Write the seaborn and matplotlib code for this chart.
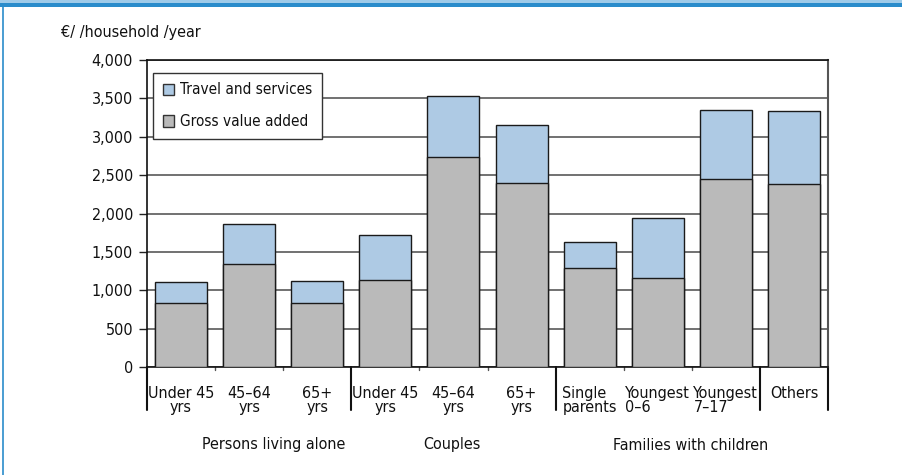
import numpy as np
import pandas as pd
import matplotlib
matplotlib.use("Agg")
import matplotlib.pyplot as plt
import matplotlib.transforms as mtransforms
from matplotlib import font_manager as fm
from matplotlib.patches import Rectangle, Patch
from matplotlib.lines import Line2D
import seaborn as sns

# ---- data ----
category_keys = ["alone_u45", "alone_45_64", "alone_65", "couple_u45", "couple_45_64",
                 "couple_65", "single_parents", "young_0_6", "young_7_17", "others"]
tick_labels = ["Under 45\nyrs", "45\u201364\nyrs", "65+\nyrs", "Under 45\nyrs", "45\u201364\nyrs",
               "65+\nyrs", "Single\nparents", "Youngest\n0\u20136", "Youngest\n7\u201317", "Others"]
gross_value_added = [840, 1340, 840, 1135, 2740, 2403, 1295, 1165, 2451, 2386]
travel_and_services = [268, 521, 281, 588, 789, 744, 332, 779, 904, 943]
group_names = ["Persons living alone", "Couples", "Families with children"]
series_names = ["Travel and services", "Gross value added"]
y_ticks = [0, 500, 1000, 1500, 2000, 2500, 3000, 3500, 4000]

totals = [g + t for g, t in zip(gross_value_added, travel_and_services)]
df = pd.DataFrame({"category": category_keys, "gross": gross_value_added, "total": totals})

# ---- style ----
sns.set_style("white")
names = {f.name for f in fm.fontManager.ttflist}
if "Liberation Sans Narrow" in names:
    fam = ["Liberation Sans Narrow", "DejaVu Sans"]
    fs = 12.5
else:
    cond = any(f.name == "DejaVu Sans" and str(f.stretch) in ("condensed", "semi-condensed")
               for f in fm.fontManager.ttflist)
    fam = ["DejaVu Sans"]
    fs = 11
    if cond:
        plt.rcParams["font.stretch"] = "condensed"
        fs = 11.5
plt.rcParams["font.family"] = fam
plt.rcParams["font.size"] = fs
txt_color = "#111111"

BLUE = "#aecae4"
GREY = "#bababa"
EDGE = "#1a1a1a"

fig = plt.figure(figsize=(9.02, 4.75), dpi=100)
W, H = 902, 475
ax = fig.add_axes([147 / W, 1 - 367 / H, 681 / W, 307 / H])

bw = 0.765
sns.barplot(data=df, x="category", y="total", order=category_keys, color=BLUE, saturation=1,
            width=bw, edgecolor=EDGE, linewidth=1.0, ax=ax, zorder=2)
sns.barplot(data=df, x="category", y="gross", order=category_keys, color=GREY, saturation=1,
            width=bw, edgecolor=EDGE, linewidth=1.0, ax=ax, zorder=3)

ax.set_xlim(-0.5, len(category_keys) - 0.5)
ax.set_ylim(0, 4000)
ax.set_yticks(y_ticks)
ax.set_yticklabels([f"{v:,}" for v in y_ticks], color=txt_color, fontsize=fs)
ax.tick_params(axis="y", direction="out", length=6, width=1, color="#222222", pad=4, left=True)
ax.set_xlabel("")
ax.set_ylabel("")
ax.set_axisbelow(True)
ax.yaxis.grid(True, color="#4a4a4a", linewidth=1.1)
ax.xaxis.grid(False)

for side in ["left", "top", "bottom"]:
    ax.spines[side].set_visible(True)
    ax.spines[side].set_color("#111111")
    ax.spines[side].set_linewidth(1.2)
ax.spines["right"].set_visible(True)
ax.spines["right"].set_color("#555555")
ax.spines["right"].set_linewidth(1.5)

# x tick labels
ax.set_xticks(range(len(category_keys)))
ax.set_xticklabels([])
ax.tick_params(axis="x", length=0)
trans = mtransforms.blended_transform_factory(ax.transData, ax.transAxes)
ylab = (367 - 386) / 307
for i, lab in enumerate(tick_labels):
    ma = "left" if i >= 6 else "center"
    ax.text(i, ylab, lab, transform=trans, ha="center", va="top", multialignment=ma,
            linespacing=0.95, fontsize=fs, color=txt_color, clip_on=False)

# minor boundary ticks and group separators
for b in [0.5, 1.5, 3.5, 4.5, 6.5, 7.5]:
    ax.add_line(Line2D([b, b], [0, -3 / 307], transform=trans, color="#555555", lw=1, clip_on=False))
for b in [-0.5, 2.5, 5.5, 8.5, 9.5]:
    ax.add_line(Line2D([b, b], [0, (367 - 410) / 307], transform=trans, color="#111111",
                       lw=1.5, clip_on=False))

# group labels
ygrp = (367 - 445) / 307
for name, xpx in zip(group_names, [274, 451, 690]):
    ax.text((xpx - 147) / 68 - 0.5, ygrp, name, transform=trans, ha="center", va="center",
            fontsize=fs, color=txt_color, clip_on=False)

# y unit label
fig.text(61 / W, 1 - 32 / H, "\u20ac/ /household /year", ha="left", va="center",
         fontsize=fs, color=txt_color)

# legend
handles = [Patch(facecolor=BLUE, edgecolor="#333333", linewidth=1),
           Patch(facecolor=GREY, edgecolor="#333333", linewidth=1)]
leg = ax.legend(handles, series_names, loc="upper left",
                bbox_to_anchor=((153 - 147) / 681, (367 - 72.5) / 307), borderaxespad=0,
                frameon=True, fancybox=False, framealpha=1, edgecolor="#333333",
                handlelength=0.75, handleheight=0.75, handletextpad=0.35, labelspacing=1.1,
                borderpad=0.65, fontsize=fs - 0.5)
leg.get_frame().set_linewidth(1.0)
for t in leg.get_texts():
    t.set_color(txt_color)
leg.set_zorder(5)

# page frame (blue border)
fig.patches.append(Rectangle((0, 1 - 3 / H), 1, 3 / H, transform=fig.transFigure,
                             facecolor="#9fcbe9", edgecolor="none"))
fig.patches.append(Rectangle((0, 1 - 7 / H), 1, 4 / H, transform=fig.transFigure,
                             facecolor="#2a8ccb", edgecolor="none"))
fig.lines.append(Line2D([3 / W, 3 / W], [0, 1 - 7 / H], transform=fig.transFigure,
                        color="#2a8ccb", lw=1.2))

fig.savefig("out.png", dpi=100)
